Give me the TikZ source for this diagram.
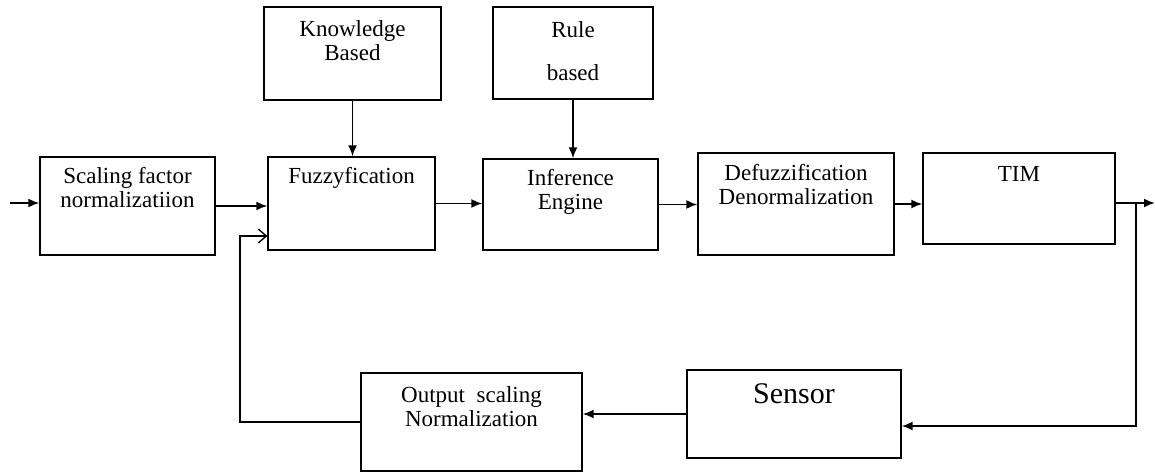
\documentclass[tikz,border=0pt]{standalone}
\usepackage{fontspec}
\setmainfont{Liberation Serif}
\usetikzlibrary{arrows.meta}

\tikzset{
    blk/.style={draw, line width=1.3pt, inner sep=0pt},
    txt/.style={anchor=north, align=center, inner sep=0pt, yshift=-#1,
        font=\fontsize{23}{24}\selectfont},
    arr/.style={line width=1.9pt, -{Latex[length=11pt,width=9pt]}},
    fbarr/.style={line width=1.9pt, -{Straight Barb[length=8pt,width=14pt,line width=1.4pt]}}
}

\begin{document}
\begin{tikzpicture}[x=1pt,y=-1pt]

    \useasboundingbox (0,0) rectangle (1155,473);

    % forward path
    \node[blk, minimum width=175pt, minimum height=98pt,
        label={[txt=11pt]north:{Scaling factor\\normalizatiion}}] (scl) at (127.5,206) {};
    \node[blk, minimum width=177pt, minimum height=93pt,
        label={[txt=14pt]north:{Knowledge\\Based}}] (kb) at (352.5,53.5) {};
    \node[blk, minimum width=167pt, minimum height=93pt,
        label={[txt=11pt]north:Fuzzyfication}] (fuz) at (351.5,203.5) {};
    \node[blk, minimum width=160pt, minimum height=92pt,
        label={[txt=15pt]north:{Rule\\[19pt]based}}] (rb) at (573,53) {};
    \node[blk, minimum width=175pt, minimum height=91pt,
        label={[txt=11pt]north:{Inference\\Engine}}] (inf) at (570.5,204.5) {};
    \node[blk, minimum width=196pt, minimum height=102pt,
        label={[txt=12pt]north:{Defuzzification\\Denormalization}}] (dfz) at (796,204) {};
    \node[blk, minimum width=192pt, minimum height=91pt,
        label={[txt=14pt]north:TIM}] (tim) at (1019,198.5) {};

    % feedback path
    \node[blk, minimum width=214pt, minimum height=88pt,
        label={[txt=14pt, font=\fontsize{30}{32}\selectfont]north:Sensor}] (sen) at (794,414) {};
    \node[blk, minimum width=221pt, minimum height=98pt,
        label={[txt=14pt]north:{Output~~scaling\\Normalization}}] (osn) at (471.5,422) {};

    \coordinate (in) at (10,203);
    \coordinate (tap) at (1136,203);
    \coordinate (out) at (1155,203);
    \coordinate (fb) at (240,236);

    % connectors
    \draw[arr] (in) -- (in -| scl.west);
    \draw[arr] (scl.east) -- (scl.east -| fuz.west);
    \draw[arr] (kb.south) -- (kb.south |- fuz.north);
    \draw[arr] (fuz.east) -- (fuz.east -| inf.west);
    \draw[arr] (rb.south) -- (rb.south |- inf.north);
    \draw[arr] (inf.east) -- (inf.east -| dfz.west);
    \draw[arr] (dfz.east) -- (dfz.east -| tim.west);
    \draw[arr] (tim.east |- out) -- (out);
    \draw[arr] (tap) |- ([yshift=-12pt]sen.east);
    \draw[arr] (sen.west) -- (sen.west -| osn.east);
    \draw[fbarr] (osn.west) -| (fb) -- (fb -| fuz.west);

\end{tikzpicture}
\end{document}
